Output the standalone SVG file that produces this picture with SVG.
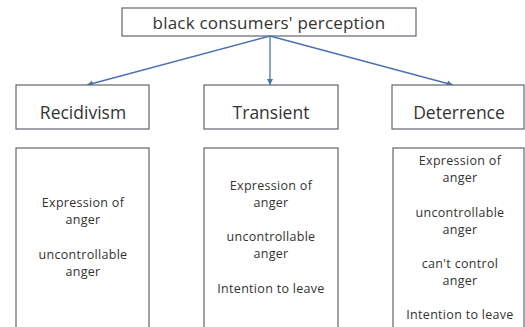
<svg xmlns="http://www.w3.org/2000/svg" width="525" height="327" viewBox="0 0 525 327">
<style>
.box{fill:#fff;stroke:#5f6770;stroke-width:1.2}
.t{font-family:"Open Sans","Noto Sans",sans-serif;fill:#333;text-anchor:middle}
.h{font-size:17.5px}
.r{font-size:17px;letter-spacing:0.2px}
.s{font-size:12.5px;letter-spacing:0.3px}
.c{stroke:#4a72b0;stroke-width:1.3;fill:none}
</style>
<defs>
<marker id="ah" markerWidth="8" markerHeight="8" refX="6" refY="4" orient="auto" markerUnits="userSpaceOnUse">
<path d="M0,1 L6,4 L0,7 Z" fill="#4a72b0"/>
</marker>
</defs>
<rect width="525" height="327" fill="#fff"/>
<g id="root">
<rect class="box" x="122" y="8" width="294" height="28"/>
<text class="t r" x="269" y="29">black consumers' perception</text>
</g>
<g id="connectors">
<line class="c" x1="270" y1="36" x2="87" y2="85" marker-end="url(#ah)"/>
<line class="c" x1="270" y1="36" x2="270" y2="85" marker-end="url(#ah)"/>
<line class="c" x1="270" y1="36" x2="453" y2="85" marker-end="url(#ah)"/>
</g>
<g id="recidivism">
<rect class="box" x="16" y="85" width="133" height="44"/>
<text class="t h" x="83" y="119">Recidivism</text>
</g>
<g id="transient">
<rect class="box" x="204" y="85" width="134" height="44"/>
<text class="t h" x="271" y="119">Transient</text>
</g>
<g id="deterrence">
<rect class="box" x="392" y="85" width="132" height="44"/>
<text class="t h" x="459" y="119">Deterrence</text>
</g>
<g id="recidivism-detail">
<rect class="box" x="16" y="148" width="133" height="185"/>
<text class="t s" x="83" y="207">Expression of</text>
<text class="t s" x="83" y="224">anger</text>
<text class="t s" x="83" y="259">uncontrollable</text>
<text class="t s" x="83" y="276">anger</text>
</g>
<g id="transient-detail">
<rect class="box" x="204" y="148" width="134" height="185"/>
<text class="t s" x="271" y="190">Expression of</text>
<text class="t s" x="271" y="207">anger</text>
<text class="t s" x="271" y="241">uncontrollable</text>
<text class="t s" x="271" y="258">anger</text>
<text class="t s" x="271" y="293">Intention to leave</text>
</g>
<g id="deterrence-detail">
<rect class="box" x="393" y="148" width="131" height="185"/>
<text class="t s" x="460" y="165">Expression of</text>
<text class="t s" x="460" y="182">anger</text>
<text class="t s" x="460" y="217">uncontrollable</text>
<text class="t s" x="460" y="234">anger</text>
<text class="t s" x="460" y="268">can't control</text>
<text class="t s" x="460" y="285">anger</text>
<text class="t s" x="460" y="319">Intention to leave</text>
</g>
</svg>
